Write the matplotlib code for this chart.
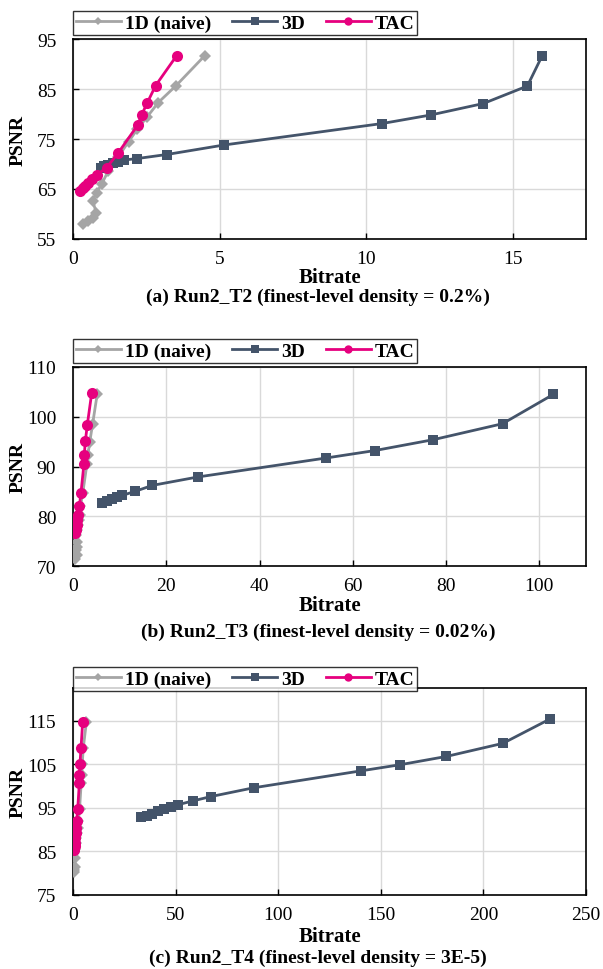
import matplotlib
matplotlib.use("Agg")
import matplotlib.pyplot as plt
from matplotlib.lines import Line2D

plt.rcParams['font.family'] = ['Liberation Serif', 'DejaVu Serif']

# ---------------- data ----------------
series_names = ["1D (naive)", "3D", "TAC"]

# Panel (a) Run2_T2
a_1d_x = [4.50, 3.52, 2.91, 2.54, 2.20, 1.90, 1.55, 1.21, 0.98, 0.81, 0.67, 0.79, 0.69, 0.52, 0.35]
a_1d_y = [91.7, 85.7, 82.3, 79.5, 77.0, 74.5, 71.5, 68.7, 66.0, 64.3, 62.7, 60.3, 59.3, 58.7, 58.0]
a_3d_x = [0.95, 1.05, 1.20, 1.35, 1.55, 1.75, 2.20, 3.20, 5.15, 10.55, 12.20, 14.00, 15.50, 16.00]
a_3d_y = [69.2, 69.6, 69.9, 70.2, 70.5, 70.8, 71.1, 71.9, 73.8, 78.1, 79.8, 82.1, 85.6, 91.6]
a_tac_x = [3.54, 2.82, 2.53, 2.34, 2.21, 1.54, 1.15, 0.81, 0.64, 0.52, 0.41, 0.33, 0.24]
a_tac_y = [91.7, 85.7, 82.2, 79.8, 77.8, 72.2, 69.3, 67.8, 67.0, 66.3, 65.7, 65.2, 64.7]

# Panel (b) Run2_T3
b_1d_x = [5.2, 4.2, 3.6, 3.2, 3.0, 2.1, 1.6, 1.4, 1.2, 1.0, 0.8, 0.6, 0.8, 0.9, 0.6, 0.8, 0.5]
b_1d_y = [104.6, 98.5, 95.0, 92.4, 90.6, 84.7, 82.0, 80.2, 79.2, 78.2, 77.2, 76.2, 74.9, 73.9, 73.2, 72.2, 71.4]
b_3d_x = [6.3, 7.3, 8.3, 9.4, 10.6, 13.3, 17.0, 26.8, 54.2, 64.7, 77.3, 92.1, 103.0]
b_3d_y = [82.7, 83.0, 83.4, 83.8, 84.2, 85.0, 86.2, 87.9, 91.7, 93.2, 95.4, 98.6, 104.5]
b_tac_x = [4.0, 3.07, 2.64, 2.43, 2.36, 1.71, 1.36, 1.14, 0.93, 0.79, 0.57, 0.43]
b_tac_y = [104.7, 98.4, 95.05, 92.4, 90.6, 84.7, 82.0, 80.2, 79.2, 78.2, 77.2, 76.6]

# Panel (c) Run2_T4
c_1d_x = [6.5, 5.0, 4.5, 4.2, 4.0, 3.2, 2.6, 2.2, 1.9, 1.6, 1.3, 1.0, 1.0, 0.8, 0.7, 0.6]
c_1d_y = [114.6, 108.7, 105.1, 102.5, 100.7, 94.8, 92.0, 90.4, 89.2, 88.1, 86.9, 85.6, 83.4, 81.5, 80.8, 80.2]
c_3d_x = [33.2, 36.0, 38.5, 41.5, 44.5, 48.0, 51.0, 58.5, 67.3, 88.0, 140.5, 159.5, 182.0, 209.5, 232.5]
c_3d_y = [92.8, 93.2, 93.7, 94.3, 94.8, 95.3, 95.7, 96.6, 97.6, 99.6, 103.5, 104.9, 106.8, 109.8, 115.4]
c_tac_x = [4.7, 3.9, 3.4, 3.1, 3.1, 2.3, 1.8, 1.46, 1.3, 1.14, 0.97, 0.8, 0.65]
c_tac_y = [114.6, 108.7, 105.1, 102.5, 100.7, 94.8, 92.0, 90.4, 89.2, 88.1, 86.9, 86.2, 85.3]

captions = ["(a) Run2_T2 (finest-level density = 0.2%)",
            "(b) Run2_T3 (finest-level density = 0.02%)",
            "(c) Run2_T4 (finest-level density = 3E-5)"]
x_ticks = [[0, 5, 10, 15], [0, 20, 40, 60, 80, 100], [0, 50, 100, 150, 200, 250]]
y_ticks = [[55, 65, 75, 85, 95], [70, 80, 90, 100, 110], [75, 85, 95, 105, 115]]
x_lims = [(0, 17.5), (0, 110), (0, 250)]
y_lims = [(55, 95), (70, 110), (75, 122.5)]

panels = [
    ((a_1d_x, a_1d_y), (a_3d_x, a_3d_y), (a_tac_x, a_tac_y)),
    ((b_1d_x, b_1d_y), (b_3d_x, b_3d_y), (b_tac_x, b_tac_y)),
    ((c_1d_x, c_1d_y), (c_3d_x, c_3d_y), (c_tac_x, c_tac_y)),
]

# ---------------- style ----------------
W, H = 603, 970
C_1D = "#A5A5A5"
C_3D = "#44546A"
C_TAC = "#E6007E"
styles = [
    dict(color=C_1D, marker="D", markersize=6, lw=2.0),
    dict(color=C_3D, marker="s", markersize=7.5, lw=2.0),
    dict(color=C_TAC, marker="o", markersize=8, lw=2.0),
]

fig = plt.figure(figsize=(W / 100, H / 100), dpi=100)

# pixel layout: (top, bottom) of each axes
ax_px = [(40, 240), (368, 567), (689, 896)]
leg_px = [(8, 36), (336, 364), (664, 692)]
xlabel_px = [278, 606, 937]
caption_px = [297, 632, 958]
left_px, right_px = 73, 586

for i, (top, bot) in enumerate(ax_px):
    ax = fig.add_axes([left_px / W, 1 - bot / H, (right_px - left_px) / W, (bot - top) / H])
    handles = []
    for (xs, ys), st, name in zip(panels[i], styles, series_names):
        ax.plot(xs, ys, color=st["color"], marker=st["marker"], markersize=st["markersize"],
                lw=st["lw"], markeredgewidth=0, zorder=3)
        handles.append(Line2D([0], [0], color=st["color"], marker=st["marker"],
                              markersize=st["markersize"] * 0.75, lw=2.0, markeredgewidth=0))
    ax.set_xlim(*x_lims[i])
    ax.set_ylim(*y_lims[i])
    ax.set_xticks(x_ticks[i])
    ax.set_yticks(y_ticks[i])
    ax.grid(True, color="#D9D9D9", lw=1.0, zorder=0)
    ax.set_axisbelow(True)
    ax.tick_params(direction="in", length=4, width=1, labelsize=14, colors="black")
    ax.tick_params(axis="x", pad=8)
    ax.tick_params(axis="y", pad=12)
    for sp in ax.spines.values():
        sp.set_color("black")
        sp.set_linewidth(1.2)
    ax.set_ylabel("PSNR", fontsize=14, fontweight="bold")
    ax.yaxis.set_label_coords(-0.09, 0.5)

    fig.text((left_px + right_px) / 2 / W, 1 - xlabel_px[i] / H, "Bitrate",
             ha="center", va="center", fontsize=15, fontweight="bold")

    lt, lb = leg_px[i]
    leg = fig.legend(handles, series_names, loc="lower left",
                     bbox_to_anchor=(left_px / W, 1 - lb / H), ncol=3,
                     prop=dict(size=14, weight="bold"), frameon=True, fancybox=False,
                     borderaxespad=0, handlelength=2.3, columnspacing=1.1,
                     handletextpad=0.2, borderpad=0.15)
    leg.get_frame().set_edgecolor("black")
    leg.get_frame().set_linewidth(1.0)

    fig.text(318 / W, 1 - caption_px[i] / H, captions[i], ha="center", va="center",
             fontsize=14, fontweight="bold")

fig.savefig("out.png", dpi=100)
